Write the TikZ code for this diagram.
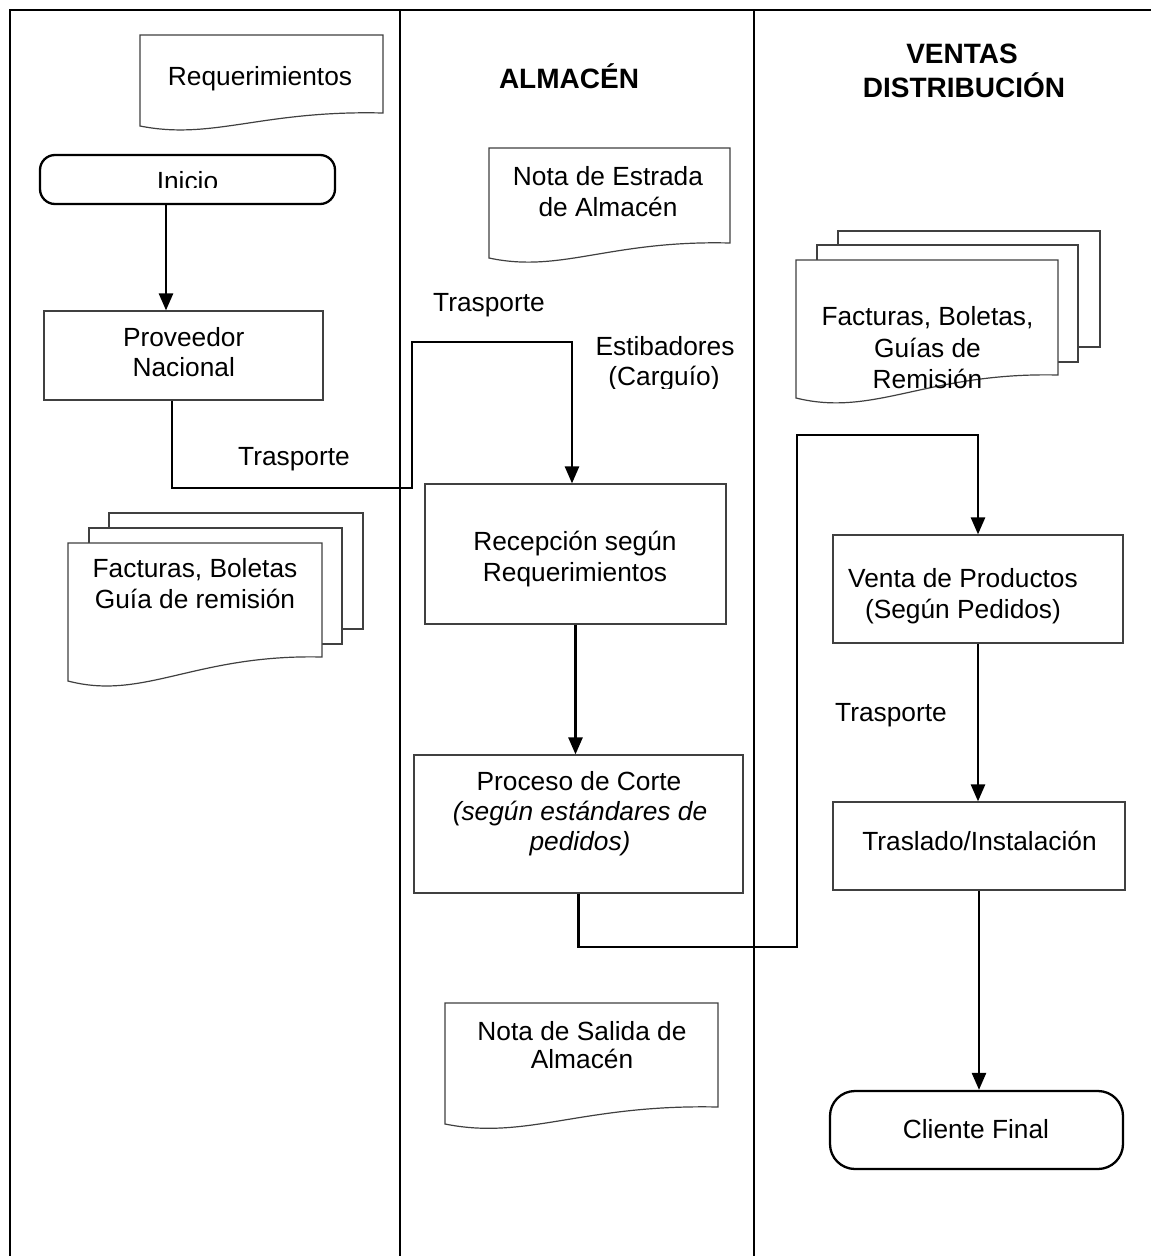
\documentclass[tikz,border=0pt]{standalone}
\usepackage{fontspec}
\setmainfont{Liberation Sans}
\usetikzlibrary{arrows.meta}
\newcommand{\docshape}[5]{% x0, ytop, x1, yR, yL
  \filldraw[docline] (#1,#2) -- (#3,#2) -- (#3,#4)
    .. controls ({#1+0.5*(#3-#1)},{#4-3}) and ({#1+0.3*(#3-#1)},{#5+0.5*(#5-#4)+8}) .. (#1,#5) -- cycle;}
\begin{document}
\begin{tikzpicture}[x=1pt,y=-1pt,
  frame/.style={line width=2pt,black},
  box/.style={draw=black!75,line width=1.2pt,rectangle,inner sep=0pt},
  term/.style={draw=black,line width=2.3pt,rectangle,inner sep=0pt},
  docline/.style={draw=black!75,line width=1.2pt,fill=white},
  conn/.style={line width=2.6pt,black},
  arr/.style={conn,-{Triangle[length=17pt,width=14pt]}},
  txt/.style={font=\fontsize{26.3}{30}\selectfont,inner sep=0pt,anchor=base},
  ttl/.style={font=\fontsize{28}{34}\selectfont\bfseries,inner sep=0pt,anchor=base}]
\useasboundingbox (0,0) rectangle (1151,1256);
\fill[white] (0,0) rectangle (1151,1256);

% swimlane frame
\draw[frame] (10,1256) -- (10,10) -- (1151,10);
\draw[frame] (400,10) -- (400,1256);
\draw[frame] (754,10) -- (754,1256);

% lane titles
\node[ttl] (tAlm) at (569,88) {ALMACÉN};
\node[ttl] (tVen) at (962,63) {VENTAS};
\node[ttl] (tDis) at (964,97) {DISTRIBUCIÓN};

% documents
\docshape{140}{35}{383}{113}{126}
\node[txt] (tReq) at (260,85) {Requerimientos};

\docshape{489}{148}{730}{243}{258}
\node[txt] (tEst1) at (608,185) {Nota de Estrada};
\node[txt] (tEst2) at (608,216) {de Almacén};

\docshape{445}{1003}{718}{1107}{1124}
\node[txt] (tSal1) at (582,1040) {Nota de Salida de};
\node[txt] (tSal2) at (582,1068) {Almacén};

% right document stack
\filldraw[docline] (838,231) rectangle (1100,347);
\filldraw[docline] (817,245) rectangle (1078,362);
\docshape{796}{260}{1058}{375}{398}
\node[txt] (tFacR1) at (927.5,325) {Facturas, Boletas,};
\node[txt] (tFacR2) at (927.5,357) {Guías de};
\node[txt] (tFacR3) at (927.5,388) {Remisión};

% left document stack
\filldraw[docline] (109,513) rectangle (363,629);
\filldraw[docline] (89,528) rectangle (342,644);
\docshape{68}{543}{322}{657}{681}
\node[txt] (tFacL1) at (195,577) {Facturas, Boletas};
\node[txt] (tFacL2) at (195,608) {Guía de remisión};

% process nodes
\node[term,rounded corners=15pt,minimum width=295pt,minimum height=49pt] (inicio) at (187.5,179.5) {};
\begin{scope}
  \clip (40,150) rectangle (335,187.5);
  \node[txt] (tIni) at (187.5,190.5) {Inicio};
\end{scope}

\node[box,minimum width=279pt,minimum height=89pt] (prov) at (183.5,355.5) {};
\node[txt] (tProv1) at (183.7,346) {Proveedor};
\node[txt] (tProv2) at (183.7,376) {Nacional};

\node[box,minimum width=301pt,minimum height=140pt] (rec) at (575.5,554) {};
\node[txt] (tRec1) at (575,550) {Recepción según};
\node[txt] (tRec2) at (575,581) {Requerimientos};

\node[box,minimum width=329pt,minimum height=138pt] (proc) at (578.5,824) {};
\node[txt] (tProc1) at (579,790) {Proceso de Corte};
\node[txt,font=\fontsize{26.3}{30}\selectfont\itshape] (tProc2) at (580,820) {(según estándares de};
\node[txt,font=\fontsize{26.3}{30}\selectfont\itshape] (tProc3) at (580,850) {pedidos)};

\node[box,minimum width=290pt,minimum height=108pt] (venta) at (978,589) {};
\node[txt] (tVen1) at (963,587) {Venta de Productos};
\node[txt] (tVen2) at (963,618) {(Según Pedidos)};

\node[box,minimum width=292pt,minimum height=88pt] (tras) at (979,846) {};
\node[txt] (tTras) at (979.5,850) {Traslado/Instalación};

\node[term,rounded corners=25pt,minimum width=293pt,minimum height=78pt] (cli) at (976.5,1130) {};
\node[txt] (tCli) at (976,1138) {Cliente Final};

% connector labels
\node[txt] (lT1) at (294,465) {Trasporte};
\node[txt] (lT2) at (489,311) {Trasporte};
\node[txt] (lT3) at (891,721) {Trasporte};
\node[txt] (lEst) at (665,355) {Estibadores};
\begin{scope}
  \clip (590,330) rectangle (750,388);
  \node[txt] (lCar) at (664,385) {(Carguío)};
\end{scope}

% connector waypoints
\coordinate (x166) at (166,0);
\coordinate (x172) at (172,0);
\coordinate (cB) at (412,488);
\coordinate (cC) at (572,342);
\coordinate (cE) at (797,947);
\coordinate (cF) at (978,435);

% connectors
\draw[arr] (inicio.south -| x166) -- (prov.north -| x166);
\draw[arr] (prov.south -| x172) |- (cB) |- (cC) -- (rec.north -| cC);
\draw[arr] (rec.south) -- (rec.south |- proc.north);
\draw[arr] (proc.south) |- (cE) |- (cF) -- (venta.north -| cF);
\draw[arr] (venta.south) -- (venta.south |- tras.north);
\draw[arr] (tras.south) -- (tras.south |- cli.north);
\end{tikzpicture}
\end{document}
